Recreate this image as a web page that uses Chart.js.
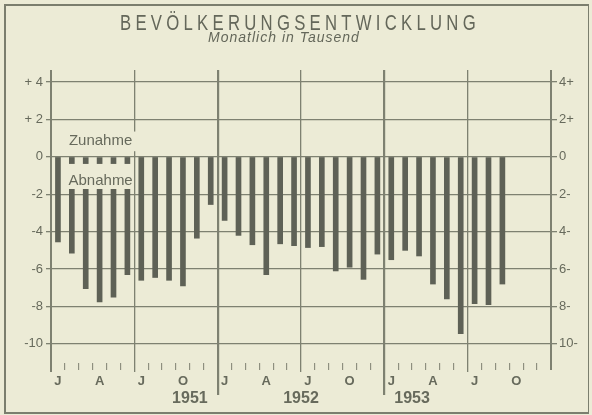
<!DOCTYPE html>
<html>
<head>
<meta charset="utf-8" />
<title>Bevölkerungsentwicklung</title>
<script src="https://cdn.jsdelivr.net/npm/chart.js@4.4.1/dist/chart.umd.min.js"></script>
<style>
    html, body { margin: 0; padding: 0; background: #ecebd6; }
    #wrap { position: relative; width: 592px; height: 415px; overflow: hidden; background: #ecebd6; }
    #frame { position: absolute; left: 4px; top: 4px; width: 582px; height: 406px; border: 2px solid #7b7e6e; border-right-width: 1px; }
    #chart { position: absolute; left: 0; top: 0; }
    .title { position: absolute; left: 0; width: 600px; text-align: center; color: #64675a;
             font-family: "Liberation Sans Narrow", "Liberation Sans", Arial, sans-serif; }
    #t1 { top: 10px; font-size: 22px; letter-spacing: 5.6px; transform: scaleX(0.76); transform-origin: 300px 0; }
    #t2 { top: 29px; left: -16px; font-size: 14px; font-style: italic; letter-spacing: 1px; }
</style>
</head>
<body>
<div id="wrap">
    <div id="frame"></div>
    <canvas id="chart" width="592" height="415"></canvas>
    <div class="title" id="t1">BEVÖLKERUNGSENTWICKLUNG</div>
    <div class="title" id="t2">Monatlich in Tausend</div>
</div>

<script>
    // data, in thousand per month
    var years = ['1951', '1952', '1953'];
    var monthLetters = ['J', 'F', 'M', 'A', 'M', 'J', 'J', 'A', 'S', 'O', 'N', 'D'];
    var values1951 = [-4.55, -5.15, -7.05, -7.75, -7.5, -6.3, -6.6, -6.45, -6.6, -6.9, -4.35, -2.55];
    var values1952 = [-3.4, -4.2, -4.7, -6.3, -4.65, -4.75, -4.85, -4.8, -6.1, -5.9, -6.55, -5.2];
    var values1953 = [-5.5, -5.0, -5.3, -6.8, -7.6, -9.45, -7.85, -7.9, -6.8, null, null, null];
    var yTicksLeft = ['+ 4', '+ 2', '0', '-2', '-4', '-6', '-8', '-10'];
    var yTicksRight = ['4+', '2+', '0', '2-', '4-', '6-', '8-', '10-'];
    var yMin = -11.02, yMax = 4.64;

    var paper = '#ecebd6';
    var lineColor = '#7e8171';
    var barColor = '#5e6156';
    var textColor = '#676a5c';
    var fontFamily = '"Liberation Sans Narrow", "Liberation Sans", Arial, sans-serif';

    var labels = [];
    years.forEach(function (y) {
        monthLetters.forEach(function (m) { labels.push(m); });
    });
    var values = values1951.concat(values1952, values1953);

    function yLabel(v, list) {
        var i = (4 - v) / 2;
        return list[i] !== undefined ? list[i] : '';
    }

    // the "Zunahme" / "Abnahme" notes sitting in the first half of 1951
    var notes = {
        id: 'notes',
        afterDatasetsDraw: function (chart) {
            var xs = chart.scales.x, ys = chart.scales.y, ctx = chart.ctx;
            var left = (xs.getPixelForValue(0) + xs.getPixelForValue(1)) / 2;
            var right = (xs.getPixelForValue(5) + xs.getPixelForValue(6)) / 2;
            ctx.save();
            ctx.fillStyle = paper;
            ctx.fillRect(left + 0.5, ys.getPixelForValue(1.35), right - left + 2, ys.getPixelForValue(0.3) - ys.getPixelForValue(1.35));
            ctx.fillRect(left + 0.5, ys.getPixelForValue(-0.38), right - left - 1.5, ys.getPixelForValue(-1.72) - ys.getPixelForValue(-0.38));
            ctx.fillStyle = textColor;
            ctx.font = '15px ' + fontFamily;
            ctx.textAlign = 'center';
            ctx.textBaseline = 'middle';
            ctx.fillText('Zunahme', (left + right) / 2 + 1, ys.getPixelForValue(0.85));
            ctx.fillText('Abnahme', (left + right) / 2 + 1, ys.getPixelForValue(-1.27));
            ctx.restore();
        }
    };

    var ctx = document.getElementById('chart').getContext('2d');
    var chart = new Chart(ctx, {
        type: 'bar',
        data: {
            labels: labels,
            datasets: [{
                data: values,
                backgroundColor: barColor,
                barThickness: 5,
                borderWidth: 0
            }]
        },
        options: {
            responsive: false,
            animation: false,
            layout: { padding: { left: 6, right: 6, top: 70, bottom: 4 } },
            plugins: {
                legend: { display: false },
                tooltip: { enabled: false },
                title: { display: false }
            },
            scales: {
                x: {
                    weight: 0,
                    afterFit: function (s) { s.height = 24; },
                    border: { display: false },
                    grid: {
                        offset: true,
                        drawTicks: true,
                        tickLength: 32,
                        color: function (c) {
                            return (c.index === undefined || c.index % 6 === 0) ? lineColor : 'rgba(0,0,0,0)';
                        },
                        lineWidth: function (c) {
                            if (c.index === undefined || c.index === 0) return 2;
                            return c.index % 12 === 0 ? 2.2 : 1.3;
                        },
                        tickColor: lineColor,
                        tickWidth: function (c) {
                            if (c.index === undefined || c.index === 0) return 2;
                            if (c.index % 12 === 0) return 2.2;
                            return c.index % 6 === 0 ? 1.3 : 1;
                        },
                        tickBorderDash: function (c) {
                            if (c.index !== undefined && c.index > 0 && c.index % 12 === 0) return [];
                            if (c.index !== undefined && c.index % 6 === 0) return [9, 100];
                            return [7, 100];
                        }
                    },
                    ticks: {
                        autoSkip: false,
                        maxRotation: 0,
                        padding: -21,
                        color: textColor,
                        font: { family: fontFamily, size: 13, weight: 'bold' },
                        callback: function (value, index) {
                            return index % 3 === 0 ? this.getLabelForValue(value) : '';
                        }
                    }
                },
                x2: {
                    type: 'linear',
                    position: 'bottom',
                    weight: 1,
                    min: 0,
                    max: years.length * 12,
                    afterFit: function (s) { s.height = 24; },
                    afterBuildTicks: function (s) {
                        s.ticks = years.map(function (y, i) { return { value: i * 12 + 6 }; });
                    },
                    border: { display: false },
                    grid: { display: false, drawTicks: false },
                    ticks: {
                        padding: 2,
                        color: textColor,
                        font: { family: fontFamily, size: 16, weight: 'bold' },
                        callback: function (v) { return years[(v - 6) / 12]; }
                    }
                },
                y: {
                    position: 'left',
                    min: yMin,
                    max: yMax,
                    afterFit: function (s) { s.width = 45; },
                    border: { display: false },
                    grid: { color: lineColor, lineWidth: 1.3, tickLength: 5 },
                    ticks: {
                        stepSize: 2,
                        includeBounds: false,
                        padding: 3,
                        color: textColor,
                        font: { family: fontFamily, size: 13 },
                        callback: function (v) { return yLabel(v, yTicksLeft); }
                    }
                },
                y2: {
                    position: 'right',
                    min: yMin,
                    max: yMax,
                    afterFit: function (s) { s.width = 35; },
                    border: { display: false },
                    grid: { drawOnChartArea: false, color: lineColor, lineWidth: 1.3, tickLength: 6 },
                    ticks: {
                        stepSize: 2,
                        includeBounds: false,
                        padding: 2,
                        color: textColor,
                        font: { family: fontFamily, size: 13 },
                        callback: function (v) { return yLabel(v, yTicksRight); }
                    }
                }
            }
        },
        plugins: [notes]
    });
</script>
</body>
</html>
